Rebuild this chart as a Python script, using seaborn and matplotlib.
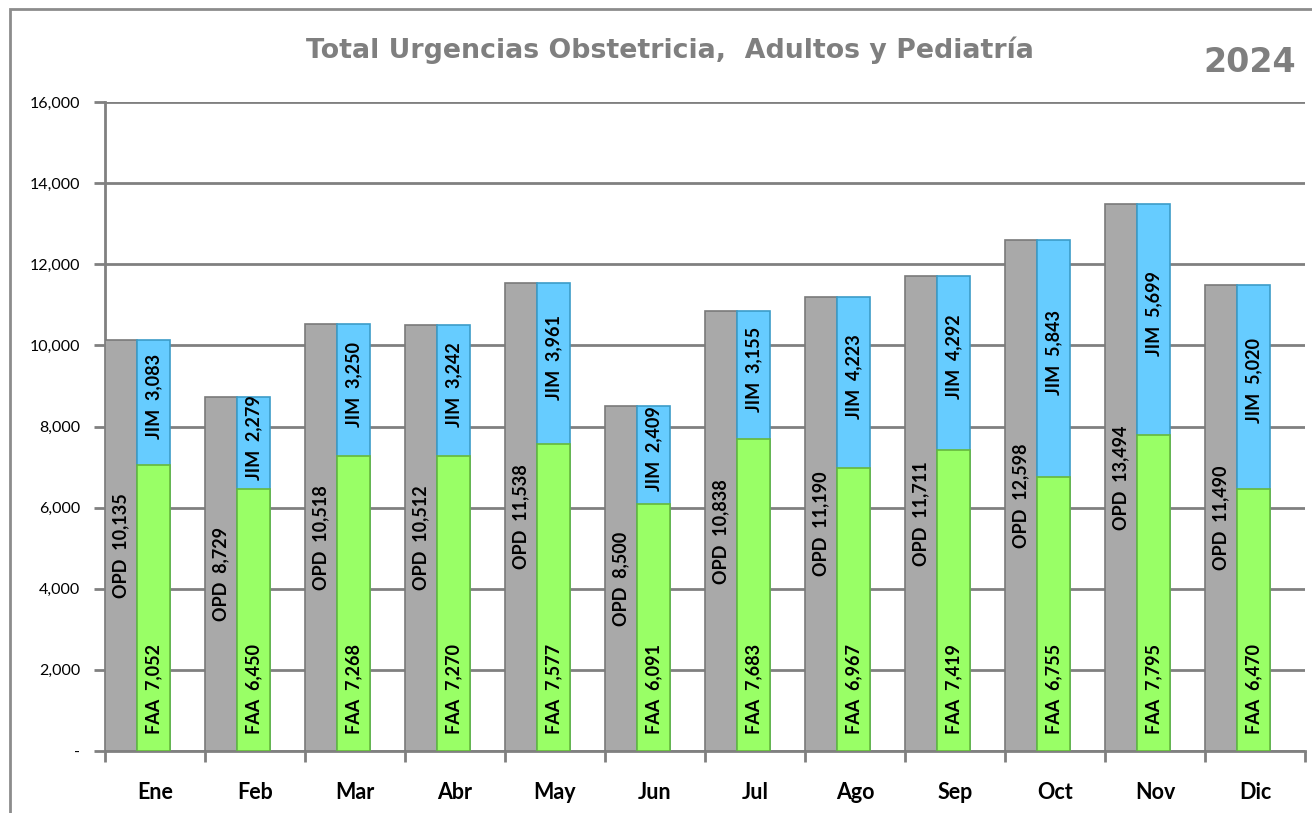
import numpy as np
import pandas as pd
import matplotlib
matplotlib.use("Agg")
import matplotlib.pyplot as plt
import seaborn as sns
from matplotlib.patches import Rectangle

months = ["Ene", "Feb", "Mar", "Abr", "May", "Jun", "Jul", "Ago", "Sep", "Oct", "Nov", "Dic"]
opd = [10135, 8729, 10518, 10512, 11538, 8500, 10838, 11190, 11711, 12598, 13494, 11490]
faa = [7052, 6450, 7268, 7270, 7577, 6091, 7683, 6967, 7419, 6755, 7795, 6470]
jim = [3083, 2279, 3250, 3242, 3961, 2409, 3155, 4223, 4292, 5843, 5699, 5020]
yticks = [0, 2000, 4000, 6000, 8000, 10000, 12000, 14000, 16000]

sns.set_theme(style="white")
plt.rcParams["font.family"] = ["Lato", "DejaVu Sans"]

df = pd.DataFrame({"mes": months, "OPD": opd, "FAA": faa, "JIM": jim})
df["idx"] = np.arange(len(df))
df["x_opd"] = df["idx"] - 0.34
df["x_stk"] = df["idx"] - 0.015
df["total"] = df["FAA"] + df["JIM"]

GRAY, BLUE, GREEN = "#A9A9A9", "#66CCFF", "#99FF66"

fig = plt.figure(figsize=(13.12, 8.13), dpi=100)
fig.patches.append(Rectangle((10 / 1312, -0.1), 1.2, 1 - 9 / 813 + 0.1, transform=fig.transFigure,
                             fill=False, edgecolor="#8C8C8C", linewidth=2, zorder=0))
ax = fig.add_axes([105 / 1312, 1 - 751 / 813, 1200 / 1312, (751 - 102) / 813])

sns.barplot(data=df, x="x_opd", y="OPD", native_scale=True, orient="x", width=0.32,
            color=GRAY, saturation=1, edgecolor="#7A7A7A", linewidth=1.2, ax=ax, zorder=3)
sns.barplot(data=df, x="x_stk", y="total", native_scale=True, orient="x", width=0.33,
            color=BLUE, saturation=1, edgecolor="#3C9CC8", linewidth=1.2, ax=ax, zorder=3)
sns.barplot(data=df, x="x_stk", y="FAA", native_scale=True, orient="x", width=0.33,
            color=GREEN, saturation=1, edgecolor="#66B83C", linewidth=1.2, ax=ax, zorder=3)

lab = dict(rotation=90, ha="center", fontsize=13, fontweight="bold", color="black", zorder=5)
for _, r in df.iterrows():
    ax.text(r.x_opd, r.OPD / 2, f"OPD  {r.OPD:,}", va="center", **lab)
    ax.annotate(f"FAA  {r.FAA:,}", (r.x_stk, 0), xytext=(0, 17), textcoords="offset pixels",
                va="bottom", **lab)
    ax.annotate(f"JIM  {r.JIM:,}", (r.x_stk, r.FAA + r.JIM / 2), xytext=(0, 6),
                textcoords="offset pixels", va="center", **lab)

ax.set_xlim(-0.5, len(months) - 0.5)
ax.set_ylim(0, 16000)
ax.set_yticks(yticks)
ax.set_yticklabels(["-" if v == 0 else f"{v:,}" for v in yticks], fontsize=11.5, color="black")
ax.set_xticks(np.arange(len(months)))
ax.set_xticklabels(months, fontsize=15.5, fontweight="bold", color="black")
ax.set_xticks(np.arange(len(months) + 1) - 0.5, minor=True)
ax.tick_params(axis="x", which="major", length=0, pad=22)
ax.tick_params(axis="x", which="minor", length=8, width=2, color="#808080", direction="out", bottom=True)
ax.tick_params(axis="y", length=8, width=2, color="#808080", direction="out", left=True, pad=10)
ax.set_xlabel("")
ax.set_ylabel("")
ax.grid(axis="y", color="#808080", linewidth=2, zorder=0)
ax.set_axisbelow(True)
for s in ["top", "right"]:
    ax.spines[s].set_visible(False)
for s in ["left", "bottom"]:
    ax.spines[s].set_color("#808080")
    ax.spines[s].set_linewidth(2)

fig.text(670 / 1312, 1 - 50 / 813, "Total Urgencias Obstetricia,  Adultos y Pediatría",
         ha="center", va="center", fontsize=19.3, fontweight="bold", color="#7F7F7F",
         family="DejaVu Sans")
fig.text(1296 / 1312, 1 - 62 / 813, "2024", ha="right", va="center", fontsize=24,
         fontweight="bold", color="#7F7F7F", family="DejaVu Sans")

fig.savefig("out.png", dpi=100)
